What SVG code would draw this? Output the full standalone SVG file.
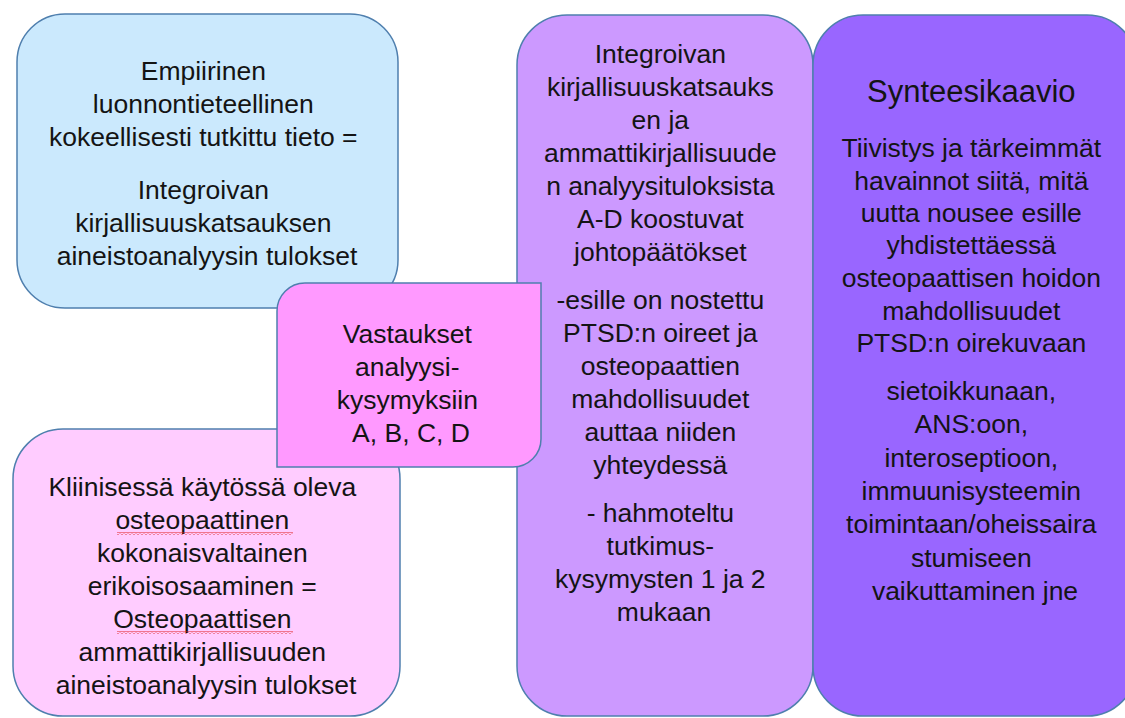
<svg xmlns="http://www.w3.org/2000/svg" width="1125" height="718" viewBox="0 0 1125 718">
  <style>
    .box { stroke: #4f7fae; stroke-width: 1.5; }
    .t { font-family: "Liberation Sans", Arial, sans-serif; font-size: 26.5px; fill: #141414; text-anchor: middle; }
    .title { font-size: 31px; }
  </style>
  <defs>
    <!-- spell-check style squiggle -->
    <pattern id="squiggle" x="0" y="0" width="4" height="3" patternUnits="userSpaceOnUse">
      <polyline points="0,2.5 2,0.5 4,2.5" fill="none" stroke="#e02020" stroke-width="1"/>
    </pattern>
  </defs>
  <rect width="1125" height="718" fill="#ffffff"/>

  <g id="node-empiirinen">
    <rect class="box" x="17" y="14" width="381" height="294" rx="48" ry="48" fill="#cbe9fd"/>
    <text class="t">
      <tspan x="207" y="80">Empiirinen</tspan>
      <tspan x="207" y="113">luonnontieteellinen</tspan>
      <tspan x="207" y="146">kokeellisesti tutkittu tieto =</tspan>
      <tspan x="207" y="199">Integroivan</tspan>
      <tspan x="207" y="232">kirjallisuuskatsauksen</tspan>
      <tspan x="207" y="265">aineistoanalyysin tulokset</tspan>
    </text>
  </g>

  <g id="node-kliininen">
    <rect class="box" x="13" y="429" width="387" height="287" rx="50" ry="50" fill="#ffccff"/>
    <text class="t">
      <tspan x="206" y="496">Kliinisessä käytössä oleva</tspan>
      <tspan x="206" y="529">osteopaattinen</tspan>
      <tspan x="206" y="562">kokonaisvaltainen</tspan>
      <tspan x="206" y="595">erikoisosaaminen =</tspan>
      <tspan x="206" y="628">Osteopaattisen</tspan>
      <tspan x="206" y="661">ammattikirjallisuuden</tspan>
      <tspan x="206" y="694">aineistoanalyysin tulokset</tspan>
    </text>
    <rect x="117" y="532" width="176" height="3" fill="url(#squiggle)"/>
    <rect x="117" y="631" width="176" height="3" fill="url(#squiggle)"/>
  </g>

  <g id="node-johtopaatokset">
    <rect class="box" x="517" y="15" width="296" height="701" rx="50" ry="50" fill="#cc99ff"/>
    <text class="t">
      <tspan x="664" y="63">Integroivan</tspan>
      <tspan x="664" y="96">kirjallisuuskatsauks</tspan>
      <tspan x="664" y="129">en ja</tspan>
      <tspan x="664" y="162">ammattikirjallisuude</tspan>
      <tspan x="664" y="195">n analyysituloksista</tspan>
      <tspan x="664" y="228">A-D koostuvat</tspan>
      <tspan x="664" y="261">johtopäätökset</tspan>
      <tspan x="664" y="309">-esille on nostettu</tspan>
      <tspan x="664" y="342">PTSD:n oireet ja</tspan>
      <tspan x="664" y="375">osteopaattien</tspan>
      <tspan x="664" y="408">mahdollisuudet</tspan>
      <tspan x="664" y="441">auttaa niiden</tspan>
      <tspan x="664" y="474">yhteydessä</tspan>
      <tspan x="664" y="522">- hahmoteltu</tspan>
      <tspan x="664" y="555">tutkimus-</tspan>
      <tspan x="664" y="588">kysymysten 1 ja 2</tspan>
      <tspan x="664" y="621">mukaan</tspan>
    </text>
  </g>

  <g id="node-synteesikaavio">
    <rect class="box" x="813" y="15" width="324" height="701" rx="50" ry="50" fill="#9966ff"/>
    <text class="t">
      <tspan class="title" x="975" y="102">Synteesikaavio</tspan>
      <tspan x="975" y="157">Tiivistys ja tärkeimmät</tspan>
      <tspan x="975" y="190">havainnot siitä, mitä</tspan>
      <tspan x="975" y="222">uutta nousee esille</tspan>
      <tspan x="975" y="254">yhdistettäessä</tspan>
      <tspan x="975" y="287">osteopaattisen hoidon</tspan>
      <tspan x="975" y="320">mahdollisuudet</tspan>
      <tspan x="975" y="352">PTSD:n oirekuvaan</tspan>
      <tspan x="975" y="400">sietoikkunaan,</tspan>
      <tspan x="975" y="433">ANS:oon,</tspan>
      <tspan x="975" y="467">interoseptioon,</tspan>
      <tspan x="975" y="500">immuunisysteemin</tspan>
      <tspan x="975" y="533">toimintaan/oheissaira</tspan>
      <tspan x="975" y="567">stumiseen</tspan>
      <tspan x="975" y="600">vaikuttaminen jne</tspan>
    </text>
  </g>

  <g id="node-vastaukset">
    <path class="box" d="M305 283 H541 V439 A28 28 0 0 1 513 467 H277 V311 A28 28 0 0 1 305 283 Z" fill="#ff99ff"/>
    <text class="t">
      <tspan x="411" y="343">Vastaukset</tspan>
      <tspan x="411" y="376">analyysi-</tspan>
      <tspan x="411" y="409">kysymyksiin</tspan>
      <tspan x="411" y="442">A, B, C, D</tspan>
    </text>
  </g>

  <g id="connectors"></g>
</svg>
